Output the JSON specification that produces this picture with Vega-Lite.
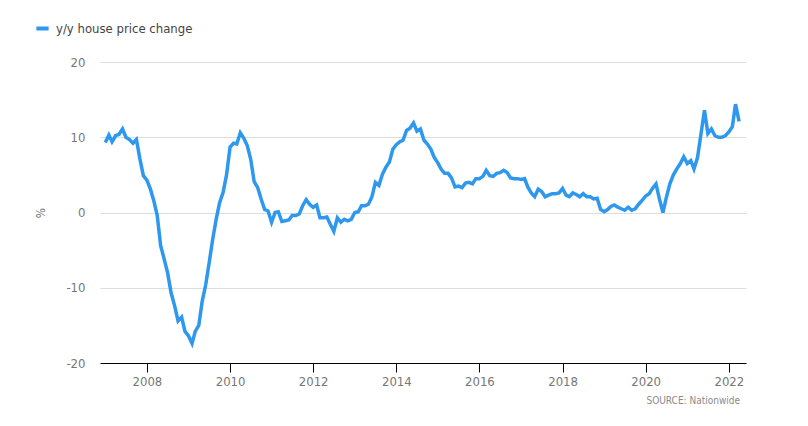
{
  "$schema": "https://vega.github.io/schema/vega-lite/v6.json",
  "autosize": "none",
  "width": 646,
  "height": 301,
  "padding": {"left": 100, "top": 62, "right": 62, "bottom": 63},
  "background": "#ffffff",
  "config": {
    "view": {"stroke": null},
    "font": "DejaVu Sans Condensed, Roboto, sans-serif"
  },
  "title": {
    "text": "SOURCE: Nationwide",
    "orient": "bottom",
    "anchor": "end",
    "fontSize": 10,
    "fontWeight": "normal",
    "color": "#8a8a8a",
    "font": "DejaVu Sans Condensed, Roboto, sans-serif",
    "offset": 8,
    "dx": -6
  },
  "data": {
    "values": [
      {"date": "2007-01-01", "value": 9.3},
      {"date": "2007-02-01", "value": 10.3},
      {"date": "2007-03-01", "value": 9.4},
      {"date": "2007-04-01", "value": 10.2},
      {"date": "2007-05-01", "value": 10.4},
      {"date": "2007-06-01", "value": 11.1},
      {"date": "2007-07-01", "value": 10.0},
      {"date": "2007-08-01", "value": 9.7},
      {"date": "2007-09-01", "value": 9.2},
      {"date": "2007-10-01", "value": 9.7},
      {"date": "2007-11-01", "value": 7.1},
      {"date": "2007-12-01", "value": 4.9},
      {"date": "2008-01-01", "value": 4.3},
      {"date": "2008-02-01", "value": 3.1},
      {"date": "2008-03-01", "value": 1.6},
      {"date": "2008-04-01", "value": -0.4},
      {"date": "2008-05-01", "value": -4.4},
      {"date": "2008-06-01", "value": -6.2},
      {"date": "2008-07-01", "value": -8.0},
      {"date": "2008-08-01", "value": -10.7},
      {"date": "2008-09-01", "value": -12.4},
      {"date": "2008-10-01", "value": -14.4},
      {"date": "2008-11-01", "value": -13.9},
      {"date": "2008-12-01", "value": -15.8},
      {"date": "2009-01-01", "value": -16.4},
      {"date": "2009-02-01", "value": -17.4},
      {"date": "2009-03-01", "value": -15.8},
      {"date": "2009-04-01", "value": -15.0},
      {"date": "2009-05-01", "value": -11.8},
      {"date": "2009-06-01", "value": -9.6},
      {"date": "2009-07-01", "value": -6.7},
      {"date": "2009-08-01", "value": -3.6},
      {"date": "2009-09-01", "value": -0.9},
      {"date": "2009-10-01", "value": 1.3},
      {"date": "2009-11-01", "value": 2.7},
      {"date": "2009-12-01", "value": 5.0},
      {"date": "2010-01-01", "value": 8.7},
      {"date": "2010-02-01", "value": 9.2},
      {"date": "2010-03-01", "value": 9.1},
      {"date": "2010-04-01", "value": 10.6},
      {"date": "2010-05-01", "value": 9.9},
      {"date": "2010-06-01", "value": 8.9},
      {"date": "2010-07-01", "value": 7.1},
      {"date": "2010-08-01", "value": 4.1},
      {"date": "2010-09-01", "value": 3.3},
      {"date": "2010-10-01", "value": 1.8},
      {"date": "2010-11-01", "value": 0.4},
      {"date": "2010-12-01", "value": 0.2},
      {"date": "2011-01-01", "value": -1.3},
      {"date": "2011-02-01", "value": 0.0},
      {"date": "2011-03-01", "value": 0.1},
      {"date": "2011-04-01", "value": -1.2},
      {"date": "2011-05-01", "value": -1.1},
      {"date": "2011-06-01", "value": -1.0},
      {"date": "2011-07-01", "value": -0.4},
      {"date": "2011-08-01", "value": -0.4},
      {"date": "2011-09-01", "value": -0.2},
      {"date": "2011-10-01", "value": 0.9},
      {"date": "2011-11-01", "value": 1.7},
      {"date": "2011-12-01", "value": 1.1},
      {"date": "2012-01-01", "value": 0.7},
      {"date": "2012-02-01", "value": 1.0},
      {"date": "2012-03-01", "value": -0.7},
      {"date": "2012-04-01", "value": -0.7},
      {"date": "2012-05-01", "value": -0.6},
      {"date": "2012-06-01", "value": -1.6},
      {"date": "2012-07-01", "value": -2.5},
      {"date": "2012-08-01", "value": -0.7},
      {"date": "2012-09-01", "value": -1.3},
      {"date": "2012-10-01", "value": -0.9},
      {"date": "2012-11-01", "value": -1.1},
      {"date": "2012-12-01", "value": -0.9},
      {"date": "2013-01-01", "value": 0.0},
      {"date": "2013-02-01", "value": 0.1},
      {"date": "2013-03-01", "value": 0.9},
      {"date": "2013-04-01", "value": 0.9},
      {"date": "2013-05-01", "value": 1.1},
      {"date": "2013-06-01", "value": 2.1},
      {"date": "2013-07-01", "value": 4.0},
      {"date": "2013-08-01", "value": 3.6},
      {"date": "2013-09-01", "value": 5.1},
      {"date": "2013-10-01", "value": 6.0},
      {"date": "2013-11-01", "value": 6.7},
      {"date": "2013-12-01", "value": 8.4},
      {"date": "2014-01-01", "value": 9.0},
      {"date": "2014-02-01", "value": 9.4},
      {"date": "2014-03-01", "value": 9.6},
      {"date": "2014-04-01", "value": 10.9},
      {"date": "2014-05-01", "value": 11.2},
      {"date": "2014-06-01", "value": 11.9},
      {"date": "2014-07-01", "value": 10.8},
      {"date": "2014-08-01", "value": 11.1},
      {"date": "2014-09-01", "value": 9.6},
      {"date": "2014-10-01", "value": 9.1},
      {"date": "2014-11-01", "value": 8.4},
      {"date": "2014-12-01", "value": 7.3},
      {"date": "2015-01-01", "value": 6.6},
      {"date": "2015-02-01", "value": 5.7},
      {"date": "2015-03-01", "value": 5.2},
      {"date": "2015-04-01", "value": 5.2},
      {"date": "2015-05-01", "value": 4.6},
      {"date": "2015-06-01", "value": 3.4},
      {"date": "2015-07-01", "value": 3.5},
      {"date": "2015-08-01", "value": 3.3},
      {"date": "2015-09-01", "value": 3.9},
      {"date": "2015-10-01", "value": 4.0},
      {"date": "2015-11-01", "value": 3.8},
      {"date": "2015-12-01", "value": 4.5},
      {"date": "2016-01-01", "value": 4.5},
      {"date": "2016-02-01", "value": 4.8},
      {"date": "2016-03-01", "value": 5.6},
      {"date": "2016-04-01", "value": 4.9},
      {"date": "2016-05-01", "value": 4.8},
      {"date": "2016-06-01", "value": 5.2},
      {"date": "2016-07-01", "value": 5.3},
      {"date": "2016-08-01", "value": 5.6},
      {"date": "2016-09-01", "value": 5.3},
      {"date": "2016-10-01", "value": 4.6},
      {"date": "2016-11-01", "value": 4.5},
      {"date": "2016-12-01", "value": 4.5},
      {"date": "2017-01-01", "value": 4.4},
      {"date": "2017-02-01", "value": 4.5},
      {"date": "2017-03-01", "value": 3.4},
      {"date": "2017-04-01", "value": 2.6},
      {"date": "2017-05-01", "value": 2.1},
      {"date": "2017-06-01", "value": 3.1},
      {"date": "2017-07-01", "value": 2.8},
      {"date": "2017-08-01", "value": 2.1},
      {"date": "2017-09-01", "value": 2.3},
      {"date": "2017-10-01", "value": 2.5},
      {"date": "2017-11-01", "value": 2.5},
      {"date": "2017-12-01", "value": 2.6},
      {"date": "2018-01-01", "value": 3.2},
      {"date": "2018-02-01", "value": 2.3},
      {"date": "2018-03-01", "value": 2.1},
      {"date": "2018-04-01", "value": 2.6},
      {"date": "2018-05-01", "value": 2.4},
      {"date": "2018-06-01", "value": 2.1},
      {"date": "2018-07-01", "value": 2.5},
      {"date": "2018-08-01", "value": 2.1},
      {"date": "2018-09-01", "value": 2.1},
      {"date": "2018-10-01", "value": 1.8},
      {"date": "2018-11-01", "value": 1.9},
      {"date": "2018-12-01", "value": 0.4},
      {"date": "2019-01-01", "value": 0.1},
      {"date": "2019-02-01", "value": 0.4},
      {"date": "2019-03-01", "value": 0.8},
      {"date": "2019-04-01", "value": 1.0},
      {"date": "2019-05-01", "value": 0.7},
      {"date": "2019-06-01", "value": 0.5},
      {"date": "2019-07-01", "value": 0.3},
      {"date": "2019-08-01", "value": 0.7},
      {"date": "2019-09-01", "value": 0.3},
      {"date": "2019-10-01", "value": 0.5},
      {"date": "2019-11-01", "value": 1.1},
      {"date": "2019-12-01", "value": 1.6},
      {"date": "2020-01-01", "value": 2.2},
      {"date": "2020-02-01", "value": 2.5},
      {"date": "2020-03-01", "value": 3.2},
      {"date": "2020-04-01", "value": 3.8},
      {"date": "2020-05-01", "value": 1.8},
      {"date": "2020-06-01", "value": 0.0},
      {"date": "2020-07-01", "value": 2.0},
      {"date": "2020-08-01", "value": 3.8},
      {"date": "2020-09-01", "value": 5.0},
      {"date": "2020-10-01", "value": 5.8},
      {"date": "2020-11-01", "value": 6.5},
      {"date": "2020-12-01", "value": 7.4},
      {"date": "2021-01-01", "value": 6.5},
      {"date": "2021-02-01", "value": 6.9},
      {"date": "2021-03-01", "value": 5.8},
      {"date": "2021-04-01", "value": 7.3},
      {"date": "2021-05-01", "value": 10.4},
      {"date": "2021-06-01", "value": 13.6},
      {"date": "2021-07-01", "value": 10.5},
      {"date": "2021-08-01", "value": 11.1},
      {"date": "2021-09-01", "value": 10.2},
      {"date": "2021-10-01", "value": 10.0},
      {"date": "2021-11-01", "value": 10.0},
      {"date": "2021-12-01", "value": 10.2},
      {"date": "2022-01-01", "value": 10.7},
      {"date": "2022-02-01", "value": 11.4},
      {"date": "2022-03-01", "value": 14.4},
      {"date": "2022-04-01", "value": 12.1}
    ]
  },
  "mark": {"type": "line", "strokeWidth": 3.5, "strokeJoin": "miter", "clip": false},
  "encoding": {
    "x": {
      "field": "date",
      "type": "temporal",
      "scale": {"domain": ["2006-11-15", "2022-06-01"]},
      "axis": {
        "title": null,
        "format": "%Y",
        "values": ["2008-01-01", "2010-01-01", "2012-01-01", "2014-01-01", "2016-01-01", "2018-01-01", "2020-01-01", "2022-01-01"],
        "grid": false,
        "domainColor": "#000000",
        "domainWidth": 1.2,
        "tickColor": "#000000",
        "tickSize": 9,
        "tickWidth": 1,
        "labelFontSize": 13,
        "labelColor": "#777777",
        "labelPadding": 3,
        "labelFont": "DejaVu Sans Condensed, Roboto, sans-serif"
      }
    },
    "y": {
      "field": "value",
      "type": "quantitative",
      "scale": {"domain": [-20, 20], "nice": false, "zero": false},
      "axis": {
        "title": "%",
        "titleAngle": -90,
        "titleFontSize": 12,
        "titleFontWeight": "normal",
        "titleColor": "#777777",
        "titlePadding": 18,
        "titleFont": "DejaVu Sans Condensed, Roboto, sans-serif",
        "values": [-20, -10, 0, 10, 20],
        "labelExpr": "datum.value < 0 ? '-' + abs(datum.value) : '' + datum.value",
        "domain": false,
        "ticks": false,
        "grid": true,
        "gridColor": "#dddddd",
        "gridWidth": 1,
        "labelFontSize": 13,
        "labelColor": "#777777",
        "labelPadding": 15,
        "labelFont": "DejaVu Sans Condensed, Roboto, sans-serif"
      }
    },
    "color": {
      "datum": "y/y house price change",
      "type": "nominal",
      "scale": {"range": ["#2d98ee"]},
      "legend": {
        "title": null,
        "orient": "none",
        "legendX": -66,
        "legendY": -42,
        "symbolType": "stroke",
        "symbolSize": 150,
        "symbolStrokeWidth": 4,
        "labelFontSize": 13,
        "labelColor": "#444444",
        "labelFont": "DejaVu Sans Condensed, Roboto, sans-serif",
        "labelOffset": 5
      }
    }
  }
}
